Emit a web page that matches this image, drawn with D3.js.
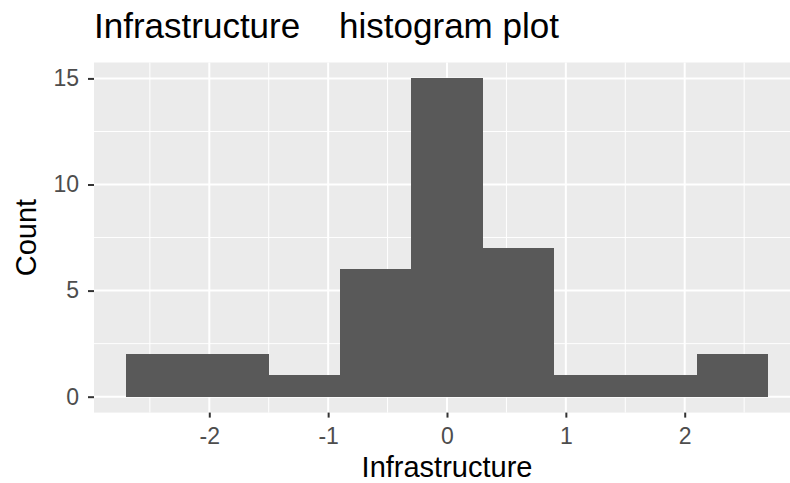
<!DOCTYPE html>
<html>
<head>
<meta charset="utf-8">
<script src="https://cdn.jsdelivr.net/npm/d3@7"></script>
<style>
  body { margin: 0; background: #fff; }
  svg { display: block; font-family: "Liberation Sans", Arial, sans-serif; }
</style>
</head>
<body>
<script>
// histogram bins (width 0.6) and counts
const binEdges = [-2.7, -2.1, -1.5, -0.9, -0.3, 0.3, 0.9, 1.5, 2.1, 2.7]
const counts = [2, 2, 1, 6, 15, 7, 1, 1, 2]
const xTicks = [-2, -1, 0, 1, 2]
const xMinor = [-2.5, -1.5, -0.5, 0.5, 1.5, 2.5]
const yTicks = [0, 5, 10, 15]
const yMinor = [2.5, 7.5, 12.5]

const width = 790, height = 483

const svg = d3.select("body")
    .append("svg")
    .attr("width", width)
    .attr("height", height)

// panel (ggplot expands 5% on each side)
const panel = { left: 94, right: 800, top: 62.5, bottom: 412.6 }

const xSpan = binEdges[binEdges.length - 1] - binEdges[0]
const x = d3.scaleLinear()
    .domain([binEdges[0] - xSpan * 0.05, binEdges[binEdges.length - 1] + xSpan * 0.05])
    .range([panel.left, panel.right])

const yMax = d3.max(counts)
const y = d3.scaleLinear()
    .domain([-yMax * 0.05, yMax * 1.05])
    .range([panel.bottom, panel.top])

//fond du panneau
svg.append("rect")
    .attr("x", panel.left)
    .attr("y", panel.top)
    .attr("width", panel.right - panel.left)
    .attr("height", panel.bottom - panel.top)
    .attr("fill", "#EBEBEB")

const grid = svg.append("g")

//grilles mineures
grid.selectAll(".xminor").data(xMinor).enter().append("line")
    .attr("x1", d => x(d)).attr("x2", d => x(d))
    .attr("y1", panel.top).attr("y2", panel.bottom)
    .attr("stroke", "#fff").attr("stroke-width", 1)

grid.selectAll(".yminor").data(yMinor).enter().append("line")
    .attr("x1", panel.left).attr("x2", panel.right)
    .attr("y1", d => y(d)).attr("y2", d => y(d))
    .attr("stroke", "#fff").attr("stroke-width", 1)

//grilles majeures
grid.selectAll(".xmajor").data(xTicks).enter().append("line")
    .attr("x1", d => x(d)).attr("x2", d => x(d))
    .attr("y1", panel.top).attr("y2", panel.bottom)
    .attr("stroke", "#fff").attr("stroke-width", 2)

grid.selectAll(".ymajor").data(yTicks).enter().append("line")
    .attr("x1", panel.left).attr("x2", panel.right)
    .attr("y1", d => y(d)).attr("y2", d => y(d))
    .attr("stroke", "#fff").attr("stroke-width", 2)

//barres de l'histogramme
const bins = counts.map((c, i) => ({ x0: binEdges[i], x1: binEdges[i + 1], count: c }))

svg.append("g")
    .attr("shape-rendering", "crispEdges")
    .selectAll("rect")
    .data(bins)
    .enter()
    .append("rect")
    .attr("x", d => x(d.x0))
    .attr("y", d => y(d.count))
    .attr("width", d => x(d.x1) - x(d.x0))
    .attr("height", d => y(0) - y(d.count))
    .attr("fill", "#595959")

//axes
const xAxis = svg.append("g")
    .attr("transform", `translate(0,${panel.bottom})`)
    .call(d3.axisBottom(x).tickValues(xTicks).tickSize(5).tickPadding(10).tickFormat(d => String(d)))

const yAxis = svg.append("g")
    .attr("transform", `translate(${panel.left},0)`)
    .call(d3.axisLeft(y).tickValues(yTicks).tickSize(6).tickPadding(9).tickFormat(d => String(d)))

for (const ax of [xAxis, yAxis]) {
    ax.select(".domain").remove()
    ax.selectAll(".tick line").attr("stroke", "#333333").attr("stroke-width", 2)
    ax.selectAll(".tick text")
        .attr("fill", "#4D4D4D")
        .style("font-size", "23px")
        .style("font-family", "Liberation Sans, Arial, sans-serif")
}

//titres
svg.append("text")
    .attr("x", panel.left)
    .attr("y", 38)
    .style("font-size", "35px")
    .style("white-space", "pre")
    .attr("fill", "#000")
    .text("Infrastructure    histogram plot")

svg.append("text")
    .attr("x", (panel.left + panel.right) / 2)
    .attr("y", 477)
    .attr("text-anchor", "middle")
    .style("font-size", "29px")
    .attr("fill", "#000")
    .text("Infrastructure")

svg.append("text")
    .attr("transform", `translate(36,${(panel.top + panel.bottom) / 2}) rotate(-90)`)
    .attr("text-anchor", "middle")
    .style("font-size", "29px")
    .attr("fill", "#000")
    .text("Count")
</script>
</body>
</html>
